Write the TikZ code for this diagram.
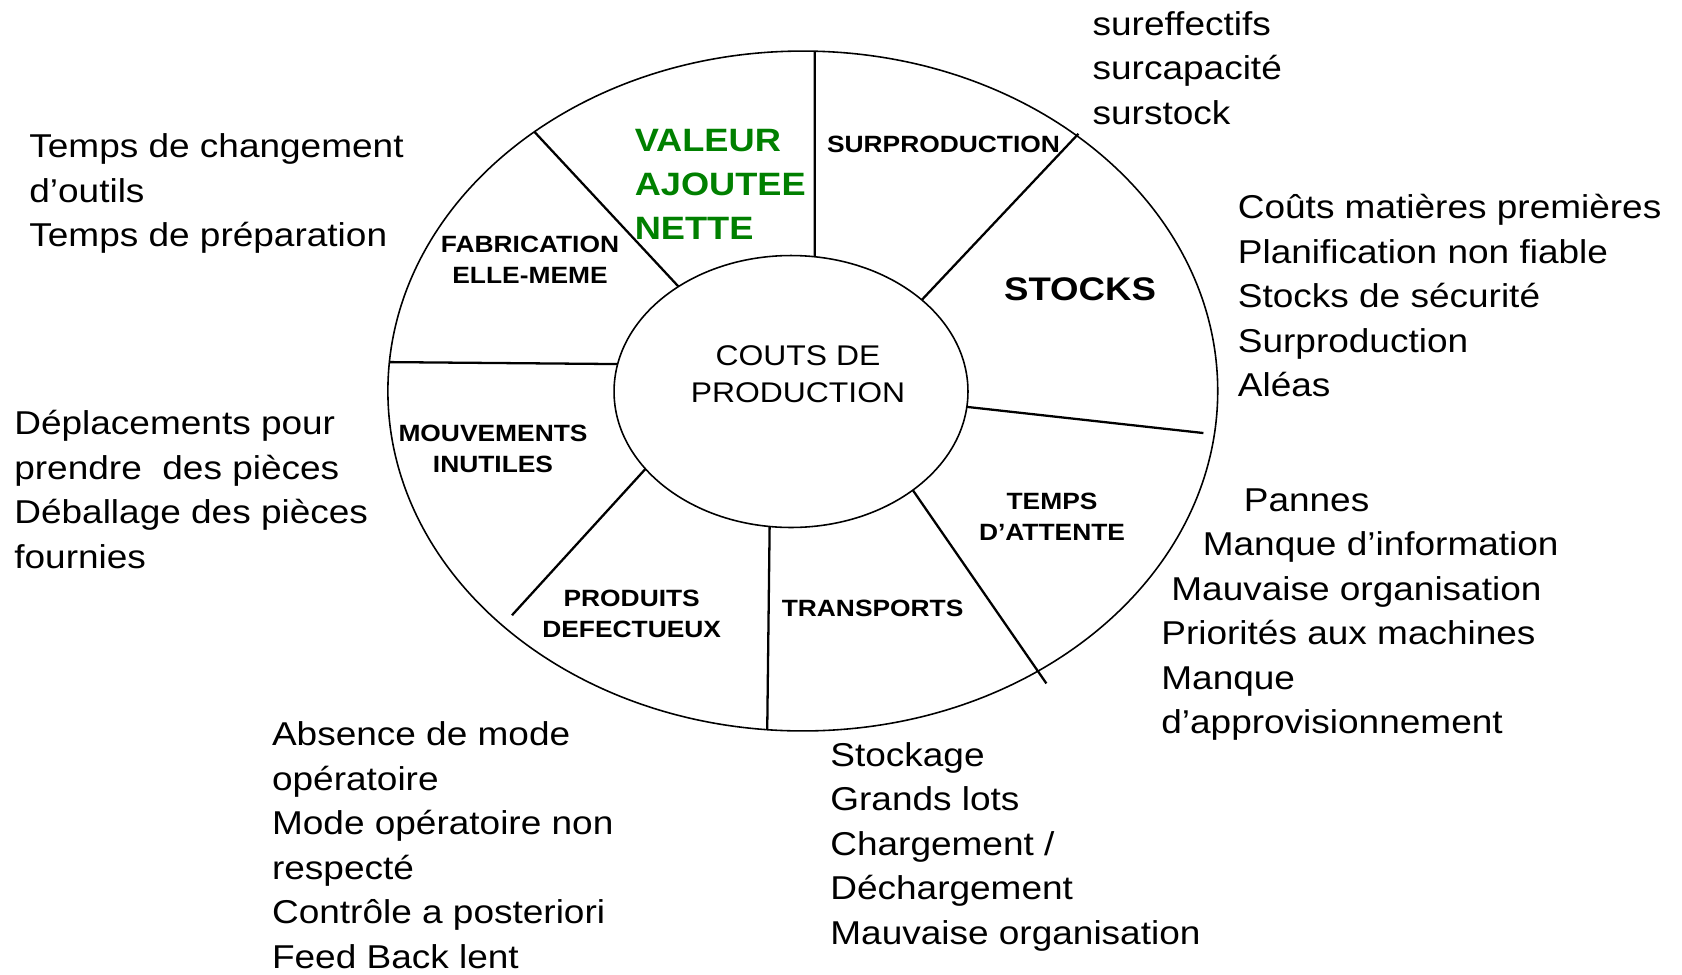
\documentclass[tikz,border=0pt]{standalone}
\usepackage{fontspec}
\setmainfont[FakeStretch=1.12]{Liberation Sans}
\usepackage{tikz}
\usetikzlibrary{shapes.geometric}
\definecolor{vagreen}{RGB}{0,128,0}

\begin{document}
\begin{tikzpicture}[x=0.02cm, y=-0.02cm]
    \tikzstyle{ring} = [ellipse, draw, line width=0.9pt, inner sep=0, outer sep=0]
    \tikzstyle{cause text} = [anchor=base west, align=left, inner sep=0, font=\fontsize{18.8}{25.3}\selectfont]
    \tikzstyle{sector label} = [anchor=base, align=center, inner sep=0, font=\bfseries\fontsize{13.4}{17.6}\selectfont]
    \useasboundingbox (0,0) rectangle (1682,974);

    % the wheel and its hub
    \node[ring, minimum width=16.6cm, minimum height=13.6cm] (wheel) at (802.8,391) {};
    \node[ring, minimum width=7.08cm, minimum height=5.44cm] (couts) at (791,391.5) {};
    \node[align=center, inner sep=0, font=\fontsize{16.2}{21.3}\selectfont] (hub) at (798,374) {COUTS DE\\PRODUCTION};

    % spokes: hub angle / rim angle / gap at the rim
    \foreach \a/\b/\s in {80.9/88.3/0, 35.3/43/-0.05, 355.3/354.1/0.22, 321.4/310.9/-0.3, 261/264.4/0, 208.8/218.9/0.28, 171.3/176.6/0, 137.9/136.6/0}
        \draw[line width=1.3pt, shorten >=\s cm] (couts.\a) -- (wheel.\b);

    % sectors (multi-line nodes sit on the baseline of their last line)
    \node[anchor=base west, align=left, inner sep=0, text=vagreen, font=\bfseries\fontsize{18.4}{25}\selectfont] (valeur) at (634.4,239.5) {VALEUR\\AJOUTEE\\NETTE};
    \node[sector label] (surprod) at (943.5,152.5) {SURPRODUCTION};
    \node[sector label, font=\bfseries\fontsize{18.6}{22}\selectfont] (stocks) at (1080,300) {STOCKS};
    \node[sector label] (attente) at (1052,540) {TEMPS\\D’ATTENTE};
    \node[sector label] (transports) at (872.6,616) {TRANSPORTS};
    \node[sector label] (defauts) at (631.7,637) {PRODUITS\\DEFECTUEUX};
    \node[sector label] (mouvements) at (493,472) {MOUVEMENTS\\INUTILES};
    \node[sector label] (fabrication) at (530,283) {FABRICATION\\ELLE-MEME};

    % causes around the wheel
    \node[cause text] (c-surprod) at (1092.3,124) {sureffectifs\\surcapacité\\surstock};
    \node[cause text] (c-stocks) at (1237.5,396.7) {Coûts matières premières\\Planification non fiable\\Stocks de sécurité\\Surproduction\\Aléas};
    \node[cause text] (c-attente) at (1161,733.6) {\hspace*{1.65cm}Pannes\\\hspace*{0.83cm}Manque d’information\\\hspace*{0.2cm}Mauvaise organisation\\Priorités aux machines\\Manque\\d’approvisionnement};
    \node[cause text] (c-transports) at (830,944) {Stockage\\Grands lots\\Chargement /\\Déchargement\\Mauvaise organisation};
    \node[cause text] (c-defauts) at (271.7,968) {Absence de mode\\opératoire\\Mode opératoire non\\respecté\\Contrôle a posteriori\\Feed Back lent};
    \node[cause text] (c-mouvements) at (14,568) {Déplacements pour\\prendre\ \ des pièces\\Déballage des pièces\\fournies};
    \node[cause text] (c-fabrication) at (29,246.7) {Temps de changement\\d’outils\\Temps de préparation};
\end{tikzpicture}
\end{document}
